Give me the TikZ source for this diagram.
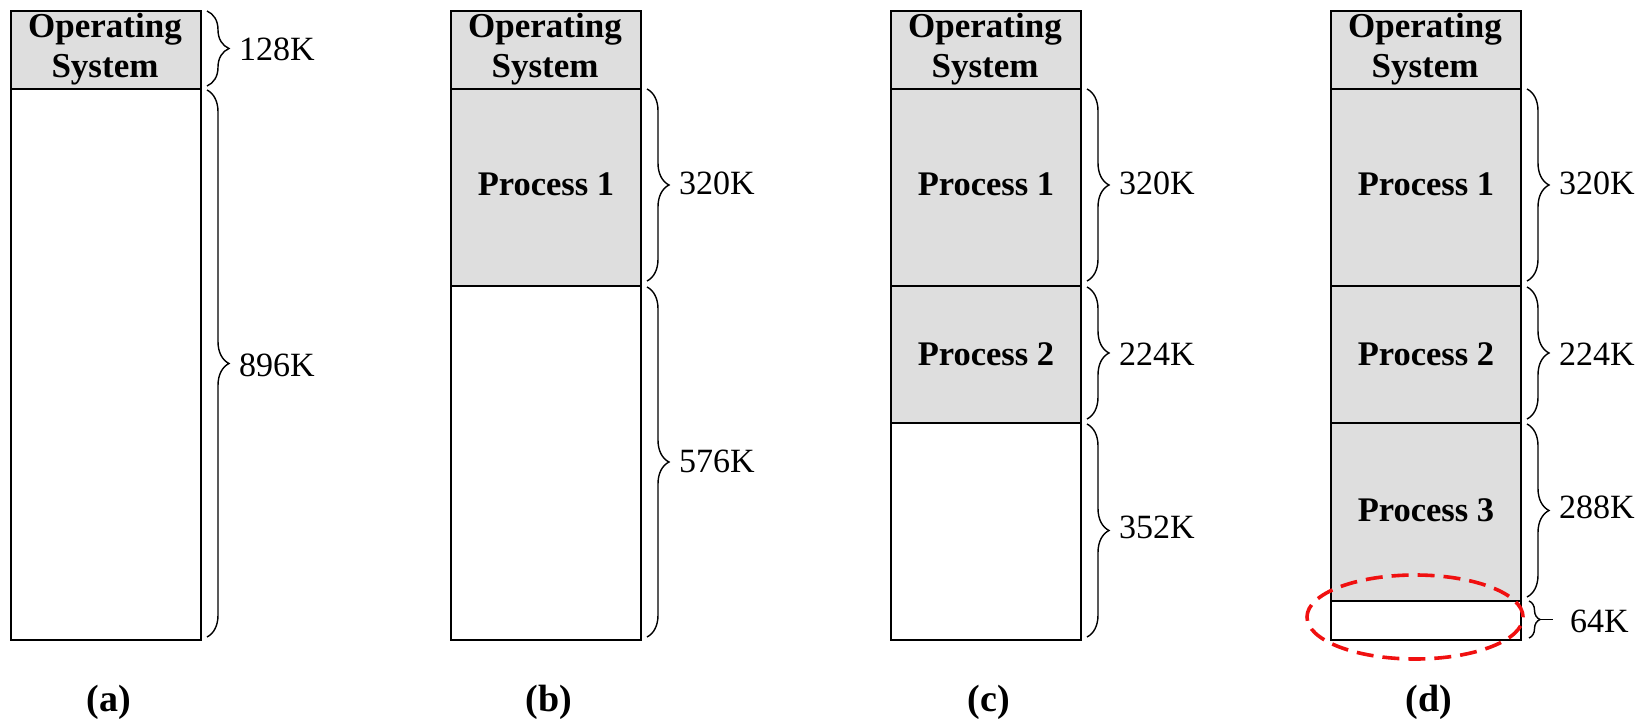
\documentclass[tikz,border=0pt]{standalone}
\usepackage{fontspec}
\setmainfont{Liberation Serif}
\usetikzlibrary{decorations.pathreplacing}
\definecolor{memgray}{HTML}{DEDEDE}
\definecolor{hlred}{HTML}{F01010}
\tikzset{
  seg/.style={draw=black,line width=2pt,minimum width=190pt,inner sep=0pt,anchor=north west,font=\fontsize{34.5}{36}\selectfont\bfseries,align=center},
  used/.style={seg,fill=memgray},
  free/.style={seg,fill=white},
  ostext/.style={inner sep=0pt,align=center,font=\fontsize{35}{40}\selectfont\bfseries},
  brc/.style={decorate,decoration={brace,amplitude=22pt},line width=1.4pt},
  sizelbl/.style={anchor=west,inner sep=0pt,font=\fontsize{34}{36}\selectfont},
  caplbl/.style={inner sep=0pt,font=\fontsize{38}{40}\selectfont\bfseries},
}
\begin{document}
\begin{tikzpicture}[x=1pt,y=-1pt]
\useasboundingbox (0,0) rectangle (1649,719);
% ---- (a)
\node[used,minimum height=78pt] (a0) at (10,10) {};
\node[ostext] (a0t) at (105,49) {Operating\\System};
\node[free,minimum height=551pt] (a1) at (10,88) {};
\draw[brc] (207,11) -- (207,86);
\draw[brc] (207,90) -- (207,637);
\node[sizelbl] (la0) at (239,49) {128K};
\node[sizelbl] (la1) at (239,365) {896K};
\node[caplbl] (ca) at (109,702) {(a)};
% ---- (b)
\node[used,minimum height=78pt] (b0) at (450,10) {};
\node[ostext] (b0t) at (545,49) {Operating\\System};
\node[used,minimum height=197pt] (b1) at (450,88) {\raisebox{6pt}{Process 1}};
\node[free,minimum height=354pt] (b2) at (450,285) {};
\draw[brc] (647,89) -- (647,281);
\draw[brc] (647,287) -- (647,637);
\node[sizelbl] (lb1) at (679,183) {320K};
\node[sizelbl] (lb2) at (679,461) {576K};
\node[caplbl] (cb) at (549,702) {(b)};
% ---- (c)
\node[used,minimum height=78pt] (c0) at (890,10) {};
\node[ostext] (c0t) at (985,49) {Operating\\System};
\node[used,minimum height=197pt] (c1) at (890,88) {\raisebox{6pt}{Process 1}};
\node[used,minimum height=137pt] (c2) at (890,285) {Process 2};
\node[free,minimum height=217pt] (c3) at (890,422) {};
\draw[brc] (1087,89) -- (1087,281);
\draw[brc] (1087,287) -- (1087,419);
\draw[brc] (1087,424) -- (1087,637);
\node[sizelbl] (lc1) at (1119,183) {320K};
\node[sizelbl] (lc2) at (1119,354) {224K};
\node[sizelbl] (lc3) at (1119,527) {352K};
\node[caplbl] (cc) at (989,702) {(c)};
% ---- (d)
\node[used,minimum height=78pt] (d0) at (1330,10) {};
\node[ostext] (d0t) at (1425,49) {Operating\\System};
\node[used,minimum height=197pt] (d1) at (1330,88) {\raisebox{6pt}{Process 1}};
\node[used,minimum height=137pt] (d2) at (1330,285) {Process 2};
\node[used,minimum height=178pt] (d3) at (1330,422) {\raisebox{4pt}{Process 3}};
\node[free,minimum height=39pt] (d4) at (1330,600) {};
\draw[brc] (1527,89) -- (1527,281);
\draw[brc] (1527,287) -- (1527,419);
\draw[brc] (1527,424) -- (1527,597);
\draw[decorate,decoration={brace,amplitude=11pt},line width=1.4pt] (1529,601) -- (1529,638);
\coordinate (tip64) at (1540,619.5);
\coordinate (end64) at (1553,619.5);
\draw[line width=1.4pt] (tip64) -- (end64);
\node[sizelbl] (ld1) at (1559,183) {320K};
\node[sizelbl] (ld2) at (1559,354) {224K};
\node[sizelbl] (ld3) at (1559,507) {288K};
\node[sizelbl] (ld4) at (1570,621) {64K};
\node[caplbl] (cd) at (1429,702) {(d)};
% highlight
\draw[hlred,line width=3.6pt,dash pattern=on 17pt off 9pt] (1415,617) ellipse [x radius=108pt,y radius=42pt];
\end{tikzpicture}
\end{document}
